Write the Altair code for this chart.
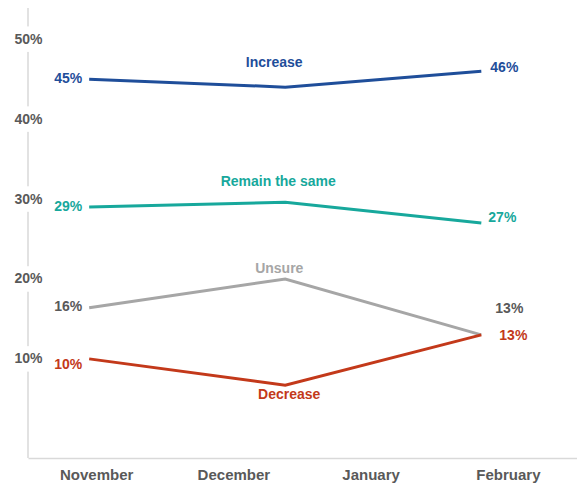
import altair as alt
import pandas as pd

# ---- data ----
waves = ["November", "December", "February"]
months = ["November", "December", "January", "February"]
series = ["Increase", "Remain the same", "Unsure", "Decrease"]
increase = [45, 44, 46]
remain_same = [29, 29.6, 27]
unsure = [16.4, 20, 13]
decrease = [10, 6.7, 13]
y_ticks = [10, 20, 30, 40, 50]

# ---- styles ----
line_colors = ["#1f4e9a", "#17a89c", "#a6a6a6", "#c3391a"]
value_colors = ["#1f4e9a", "#17a89c", "#595959", "#c3391a"]
left_dy = [0, 0, -1, 6]
right_dx = [9, 7, 14, 18]
right_dy = [-3, -5, -26, 1]
name_dx = [-11, -7, -6, 4]
name_dy = [-24, -20, -10, 10]

rows = []
for s, vals in zip(series, [increase, remain_same, unsure, decrease]):
    for w, v in zip(waves, vals):
        rows.append({"wave": w, "series": s, "value": v, "label": f"{round(v)}%"})
df = pd.DataFrame(rows)

W, H = 549, 450
FONT = "Liberation Sans"
AXIS_GRAY = "#d9d9d9"
LABEL_GRAY = "#595959"

yscale = alt.Scale(domain=[-2.4, 53.9], nice=False, zero=False)
xscale = alt.Scale(domain=waves, padding=0.4, align=0.39)

yaxis = alt.Axis(values=y_ticks, labelExpr="datum.value + '%'", domain=False,
                 ticks=False, tickSize=0, grid=False, labelAlign="center",
                 labelBaseline="middle", labelPadding=0, labelFont=FONT,
                 labelFontSize=14, labelFontWeight="bold", labelColor=LABEL_GRAY,
                 title=None, zindex=1)

X = alt.X("wave:N", scale=xscale, axis=None, sort=waves)
Y = alt.Y("value:Q", scale=yscale, axis=yaxis)

# y axis line with gaps behind labels
axis_line = alt.Chart(pd.DataFrame({"v": [0]})).mark_rule(
    color=AXIS_GRAY, strokeWidth=1.5
).encode(x=alt.value(0), y=alt.value(0), y2=alt.value(H))

gaps = alt.Chart(pd.DataFrame({"tick": y_ticks})).mark_square(
    size=650, color="white", opacity=1, filled=True, strokeWidth=0
).encode(x=alt.value(0), y=alt.Y("tick:Q", scale=yscale, axis=yaxis))

lines = alt.Chart(df).mark_line(strokeWidth=3).encode(
    x=X, y=Y,
    color=alt.Color("series:N", scale=alt.Scale(domain=series, range=line_colors), legend=None),
    detail="series:N",
)

layers = [axis_line, gaps, lines]
text_common = dict(font=FONT, fontSize=14, fontWeight="bold")
for i, s in enumerate(series):
    base = alt.Chart(df).transform_filter(alt.datum.series == s)
    layers.append(
        base.transform_filter(alt.datum.wave == "November").mark_text(
            align="right", dx=-7, dy=left_dy[i], color=value_colors[i], **text_common
        ).encode(x=X, y=Y, text="label:N")
    )
    layers.append(
        base.transform_filter(alt.datum.wave == "February").mark_text(
            align="left", dx=right_dx[i], dy=right_dy[i], color=value_colors[i], **text_common
        ).encode(x=X, y=Y, text="label:N")
    )
    layers.append(
        base.transform_filter(alt.datum.wave == "December").mark_text(
            align="center", dx=name_dx[i], dy=name_dy[i], color=line_colors[i], **text_common
        ).encode(x=X, y=Y, text="series:N")
    )

month_axis = alt.Chart(pd.DataFrame({"month": months})).mark_point(opacity=0).encode(
    x=alt.X("month:N", sort=months,
            scale=alt.Scale(type="band", paddingInner=0, paddingOuter=0),
            axis=alt.Axis(orient="bottom", title=None, labelAngle=0, ticks=False,
                          domainColor=AXIS_GRAY, domainWidth=1.5, labelFont=FONT,
                          labelFontSize=15, labelFontWeight="bold", labelColor=LABEL_GRAY,
                          labelPadding=9, grid=False)),
    y=alt.value(H),
)
layers.append(month_axis)

chart = alt.layer(*layers).resolve_scale(x="independent").properties(
    width=W, height=H,
    padding={"left": 20, "top": 0, "right": 0, "bottom": 25},
    autosize=alt.AutoSizeParams(type="none"),
).configure_view(stroke=None)

chart.save("out.html", embed_options={"renderer": "svg", "actions": False})
